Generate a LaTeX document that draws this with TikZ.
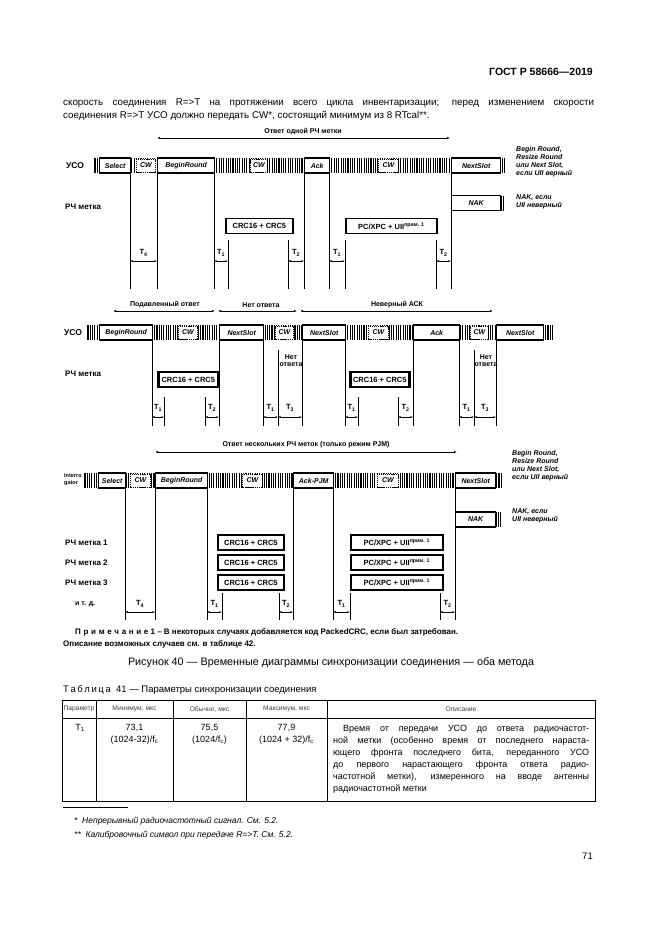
\documentclass[tikz,border=0pt]{standalone}
\usepackage{fontspec}
\setmainfont{Liberation Sans}
\usetikzlibrary{arrows.meta,positioning}

\newcommand{\sigfont}{\fontsize{7}{8}\selectfont\bfseries\itshape}
\newcommand{\tagfont}{\fontsize{7.5}{8}\selectfont\bfseries}
\newcommand{\labfont}{\fontsize{8}{9}\selectfont\bfseries}
\newcommand{\notefont}{\fontsize{7}{8.2}\selectfont\bfseries\itshape}

\begin{document}
\begin{tikzpicture}[x=1pt,y=-1pt,
  sig/.style={draw, line width=1.4pt, fill=white, inner sep=0pt, minimum height=15pt, font=\sigfont, anchor=west},
  cw/.style={draw, line width=0.9pt, dash pattern=on 1.2pt off 0.9pt, fill=white, inner sep=0pt, minimum height=13pt, font=\sigfont, anchor=west},
  hl/.style={line width=1.1pt},
  tag/.style={draw, line width=1.8pt, fill=white, inner sep=0pt, minimum height=15pt, font=\tagfont, anchor=west},
  dark/.style={tag, line width=2.6pt},
  vl/.style={line width=0.8pt},
  dim/.style={{Latex[length=2.5pt,width=2pt]}-{Latex[length=2.5pt,width=2pt]}, line width=0.6pt},
  span/.style={{Latex[length=3pt,width=2.2pt]}-{Latex[length=3pt,width=2.2pt]}, line width=1pt},
  tl/.style={font=\fontsize{7.5}{8}\selectfont\bfseries, inner sep=0pt},
  toplab/.style={font=\fontsize{7}{8}\selectfont\bfseries, inner sep=0pt},
  rowlab/.style={font=\labfont, anchor=west, inner sep=0pt},
  uso/.style={font=\fontsize{8.5}{10}\selectfont\bfseries, anchor=west, inner sep=0pt},
  note/.style={font=\notefont, anchor=north west, align=left, inner sep=0pt},
  body/.style={font=\fontsize{9.8}{13}\selectfont, anchor=base west, inner sep=0pt},
  th/.style={font=\fontsize{6.7}{8}\selectfont, text=black!75, inner sep=0pt},
  td/.style={font=\fontsize{9}{11}\selectfont, inner sep=0pt},
  dsc/.style={font=\fontsize{9}{11}\selectfont, anchor=base west, inner sep=0pt},
  prim/.style={font=\fontsize{8}{9}\selectfont\bfseries, anchor=base west, inner sep=0pt},
  ]
  \useasboundingbox (0,0) rectangle (661,935);
  \fill[white] (0,0) rectangle (661,935);

  % page head and text
  \node[font=\fontsize{10.5}{12}\selectfont\bfseries, anchor=base east, inner sep=0pt] (hdr) at (593,75) {ГОСТ Р 58666—2019};
  \node[body] (txt1) at (63,105) {\makebox[531pt][s]{скорость соединения R=>T на протяжении всего цикла инвентаризации; перед изменением скорости}};
  \node[body] (txt2) at (63,118) {соединения R=>T УСО должно передать CW*, состоящий минимум из 8 RTcal**.};

  % diagram 1
  \node[toplab] (top1) at (303,132) {Ответ одной РЧ метки};
  \coordinate (s1a) at (157,138);
  \coordinate (s1b) at (450,138);
  \draw[span] (s1a) -- (s1b);
  \node[uso] (uso1) at (66,166) {УСО};
  \node[rowlab] (tag1) at (65,207) {РЧ метка};
  \foreach \hx in {95,97.3,...,505} \draw[hl] (\hx,158) -- (\hx,173);
  \foreach \hx in {501,503.3,...,505} \draw[hl] (\hx,195.5) -- (\hx,210.5);
  \foreach \x/\a in {130/170, 157/170, 214/170, 228/240, 288/240, 304/170, 329/170, 345/240, 436/240, 451/170}
    \draw[vl] (\x,\a) -- (\x,289);
  \node[sig, minimum width=31pt] (sel1) at (99,165.5) {Select};
  \node[cw, minimum width=19pt] (cw1a) at (136,165.5) {CW};
  \node[sig, minimum width=57pt] (br1) at (157,165.5) {BeginRound};
  \node[cw, minimum width=17pt] (cw1b) at (250,165.5) {CW};
  \node[sig, minimum width=25pt] (ack1) at (304,165.5) {Ack};
  \node[cw, minimum width=20pt] (cw1c) at (378,165.5) {CW};
  \node[sig, minimum width=49pt] (ns1) at (451,165.5) {NextSlot};
  \node[sig, minimum width=49pt] (nak1) at (451,203) {NAK};
  \node[tag, minimum width=67pt] (crc1) at (225,226) {CRC16 + CRC5};
  \node[tag, minimum width=91pt] (pc1) at (345,226) {PC/XPC + UII\textsuperscript{прим. 1}};
  \node[note] (nt1a) at (516,146) {Begin Round,\\Resize Round\\или Next Slot,\\если UII верный};
  \node[note] (nt1b) at (516,194) {NAK, если\\UII неверный};
  \foreach \a/\b/\t [count=\i] in {130/157/4, 214/228/1, 288/304/2, 329/345/1, 436/451/2} {
    \draw[dim] (\a,261) -- (\b,261);
    \node[tl] (ta\i) at ({(\a+\b)/2},253) {T\textsubscript{\t}};
  }

  % diagram 2
  \node[toplab] (top2a) at (165,305) {Подавленный ответ};
  \node[toplab] (top2b) at (261,305) {Нет ответа};
  \node[toplab] (top2c) at (397,305) {Неверный АСК};
  \foreach \a/\b in {113/215, 218/297, 300/493}
    \draw[span] (\a,311) -- (\b,311);
  \node[uso] (uso2) at (64,333) {УСО};
  \node[rowlab] (tag2) at (65,374) {РЧ метка};
  \foreach \hx in {88,90.3,...,553} \draw[hl] (\hx,325) -- (\hx,340);
  \foreach \x/\a in {152/337, 164/397, 205/397, 219/337, 263/337, 278/350, 302/337, 345/337, 358/397, 398/397, 413/337, 459/337, 474/350, 496/337}
    \draw[vl] (\x,\a) -- (\x,426);
  \node[sig, minimum width=53pt] (br2) at (99,332.5) {BeginRound};
  \node[cw, minimum width=19pt] (cw2a) at (178,332.5) {CW};
  \node[sig, minimum width=44pt] (ns2a) at (219,332.5) {NextSlot};
  \node[cw, minimum width=18pt] (cw2b) at (275,332.5) {CW};
  \node[sig, minimum width=43pt] (ns2b) at (302,332.5) {NextSlot};
  \node[cw, minimum width=20pt] (cw2c) at (368,332.5) {CW};
  \node[sig, minimum width=46pt] (ack2) at (413,332.5) {Ack};
  \node[cw, minimum width=18pt] (cw2d) at (470,332.5) {CW};
  \node[sig, minimum width=47pt] (ns2c) at (496,332.5) {NextSlot};
  \node[dark, minimum width=60pt] (crc2a) at (157,379.5) {CRC16 + CRC5};
  \node[dark, minimum width=59pt] (crc2b) at (349,379.5) {CRC16 + CRC5};
  \foreach \x [count=\i] in {291, 486} {
    \node[toplab] (no\i a) at (\x,357) {Нет};
    \node[toplab] (no\i b) at (\x,365) {ответа};
  }
  \foreach \a/\b/\t [count=\i] in {152/164/1, 205/219/2, 263/278/1, 278/302/3, 345/358/1, 398/413/2, 459/474/1, 474/496/3} {
    \draw[dim] (\a,417) -- (\b,417);
    \node[tl] (tb\i) at ({(\a+\b)/2},408) {T\textsubscript{\t}};
  }

  % diagram 3
  \node[toplab] (top3) at (306,445) {Ответ нескольких РЧ меток (только режим PJM)};
  \coordinate (s3a) at (155,452);
  \coordinate (s3b) at (457,452);
  \draw[span] (s3a) -- (s3b);
  \node[rowlab, font=\fontsize{5.5}{7}\selectfont\bfseries, align=left] (int3) at (64,480) {Interro\\gator};
  \foreach \hx in {85,87.3,...,502} \draw[hl] (\hx,473) -- (\hx,488);
  \foreach \hx in {496,498.3,...,502} \draw[hl] (\hx,512) -- (\hx,527);
  \foreach \x/\a in {125/485, 155/485, 207/485, 222/593, 279/593, 293/485, 333/485, 350/593, 440/593, 455/485}
    \draw[vl] (\x,\a) -- (\x,620);
  \node[sig, minimum width=27pt] (sel3) at (98,480.5) {Select};
  \node[cw, minimum width=20pt] (cw3a) at (130,480.5) {CW};
  \node[sig, minimum width=52pt] (br3) at (155,480.5) {BeginRound};
  \node[cw, minimum width=20pt] (cw3b) at (242,480.5) {CW};
  \node[sig, minimum width=40pt] (ack3) at (293,480.5) {Ack-PJM};
  \node[cw, minimum width=21pt] (cw3c) at (377,480.5) {CW};
  \node[sig, minimum width=40pt] (ns3) at (455,480.5) {NextSlot};
  \node[sig, minimum width=40pt] (nak3) at (455,519.5) {NAK};
  \foreach \y/\n in {542.5/1, 562.5/2, 582.5/3} {
    \node[rowlab] (tag3\n) at (65,\y) {РЧ метка \n};
    \node[tag, minimum width=66pt] (crc3\n) at (217,\y) {CRC16 + CRC5};
    \node[tag, minimum width=92pt] (pc3\n) at (350,\y) {PC/XPC + UII\textsuperscript{прим. 1}};
  }
  \node[rowlab, font=\fontsize{7}{8}\selectfont\bfseries] (etc3) at (75,604) {и т. д.};
  \node[note] (nt3a) at (512,450) {Begin Round,\\Resize Round\\или Next Slot,\\если UII верный};
  \node[note] (nt3b) at (512,508) {NAK, если\\UII неверный};
  \foreach \a/\b/\t [count=\i] in {125/155/4, 207/222/1, 279/293/2, 333/350/1, 440/455/2} {
    \draw[dim] (\a,612) -- (\b,612);
    \node[tl] (tc\i) at ({(\a+\b)/2},604) {T\textsubscript{\t}};
  }

  % note and captions
  \node[prim] (prim1) at (75,634) {П\,\,р\,\,и\,\,м\,\,е\,\,ч\,\,а\,\,н\,\,и\,\,е 1 – В некоторых случаях добавляется код PackedCRC, если был затребован.};
  \node[prim] (prim2) at (63,646) {Описание возможных случаев см. в таблице 42.};
  \node[font=\fontsize{10.8}{12}\selectfont, anchor=base, inner sep=0pt] (cap) at (331,665) {Рисунок 40 — Временные диаграммы синхронизации соединения — оба метода};
  \node[font=\fontsize{9.5}{11}\selectfont, anchor=base west, inner sep=0pt] (tcap) at (63,692) {Т\,а\,б\,л\,и\,ц\,а\ \ 41 — Параметры синхронизации соединения};

  % table
  \draw[line width=0.6pt] (62,700) rectangle (595,801);
  \draw[line width=0.6pt] (62,718) -- (595,718);
  \foreach \x in {96, 173, 246, 327}
    \draw[line width=0.6pt] (\x,700) -- (\x,801);
  \node[th] (h1) at (79,709) {Параметр};
  \node[th] (h2) at (134.5,709) {Минимум, мкс};
  \node[th] (h3) at (209.5,709) {Обычно, мкс};
  \node[th] (h4) at (286.5,709) {Максимум, мкс};
  \node[th] (h5) at (461,709) {Описание};
  \node[td] (c1) at (80,728) {T\textsubscript{1}};
  \node[td] (c2a) at (134.5,728) {73,1};
  \node[td] (c2b) at (134.5,740) {(1024-32)/f\textsubscript{c}};
  \node[td] (c3a) at (209.5,728) {75,5};
  \node[td] (c3b) at (209.5,740) {(1024/f\textsubscript{c})};
  \node[td] (c4a) at (286.5,728) {77,9};
  \node[td] (c4b) at (286.5,740) {(1024 + 32)/f\textsubscript{c}};
  \node[dsc] (d1) at (343,731.5) {\makebox[246pt][s]{Время от передачи УСО до ответа радиочастот-}};
  \node[dsc] (d2) at (333,743.5) {\makebox[256pt][s]{ной метки (особенно время от последнего нараста-}};
  \node[dsc] (d3) at (333,755.5) {\makebox[256pt][s]{ющего фронта последнего бита, переданного УСО}};
  \node[dsc] (d4) at (333,767.5) {\makebox[256pt][s]{до первого нарастающего фронта ответа радио-}};
  \node[dsc] (d5) at (333,779.5) {\makebox[256pt][s]{частотной метки), измеренного на вводе антенны}};
  \node[dsc] (d6) at (333,791.5) {радиочастотной метки};

  % footnotes
  \draw[line width=0.5pt] (63,807) -- (128,807);
  \node[font=\fontsize{8.5}{10}\selectfont\itshape, anchor=base west, inner sep=0pt] (fn1) at (74,823) {*\ \ Непрерывный радиочастотный сигнал. См. 5.2.};
  \node[font=\fontsize{8.5}{10}\selectfont\itshape, anchor=base west, inner sep=0pt] (fn2) at (74,837) {**\ \ Калибровочный символ при передаче R=>T. См. 5.2.};
  \node[font=\fontsize{9.5}{11}\selectfont, anchor=base east, inner sep=0pt] (pg) at (593,859) {71};
\end{tikzpicture}
\end{document}
